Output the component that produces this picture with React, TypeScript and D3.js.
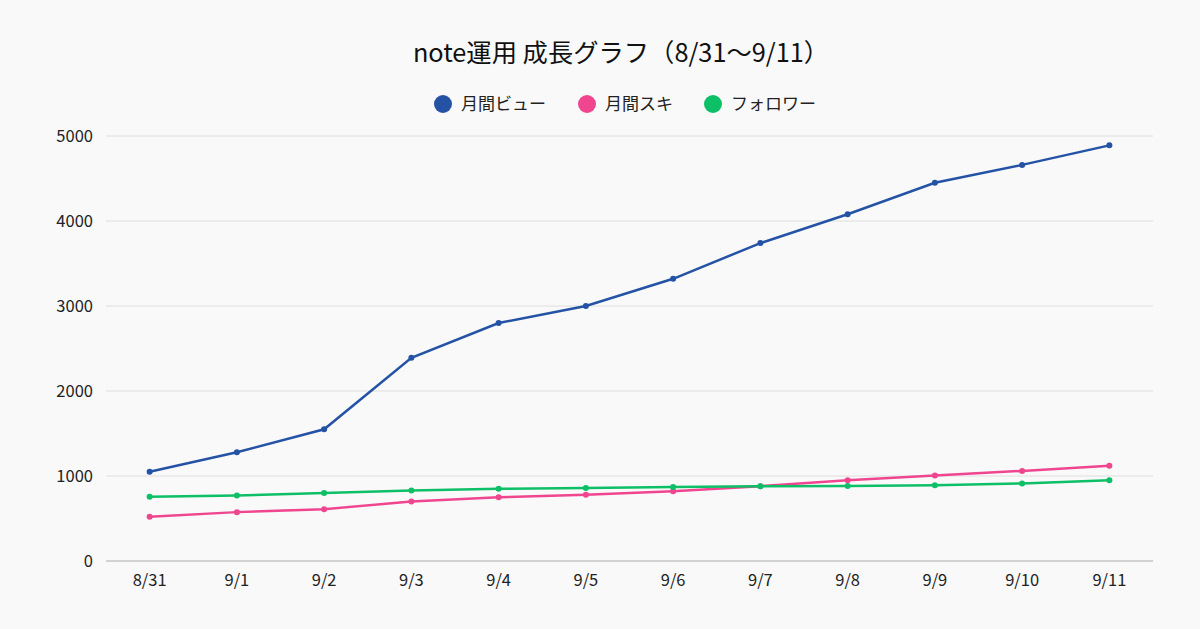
import * as d3 from 'd3'
import { useEffect, useRef } from 'react'

const dates = ['8/31', '9/1', '9/2', '9/3', '9/4', '9/5', '9/6', '9/7', '9/8', '9/9', '9/10', '9/11']
const monthlyViews = [1050, 1280, 1550, 2390, 2800, 3000, 3320, 3740, 4080, 4450, 4660, 4890]
const monthlyLikes = [520, 575, 610, 700, 750, 780, 820, 880, 950, 1005, 1060, 1120]
const followers = [755, 770, 800, 830, 850, 860, 870, 880, 883, 890, 912, 950]
const yTicks = [0, 1000, 2000, 3000, 4000, 5000]

const series = [
  { name: '月間ビュー', color: '#2453a6', values: monthlyViews },
  { name: '月間スキ', color: '#f0468f', values: monthlyLikes },
  { name: 'フォロワー', color: '#0dbf66', values: followers },
]

const FONT = '"Noto Sans CJK JP", "Noto Sans", sans-serif'

export default function App() {
  const svgRef = useRef<SVGSVGElement>(null)

  useEffect(() => {
    if (!svgRef.current) return
    document.body.style.margin = '0'
    d3.select(svgRef.current).selectAll('*').remove()

    const width = 1200
    const height = 629
    const margin = { top: 136, right: 47, bottom: 68, left: 106 }

    const svg = d3.select(svgRef.current).attr('width', width).attr('height', height)

    svg.append('rect').attr('width', width).attr('height', height).attr('fill', '#f9f9f9')

    const x = d3
      .scaleBand()
      .domain(dates)
      .range([margin.left, width - margin.right])

    const y = d3
      .scaleLinear()
      .domain([0, 5000])
      .range([height - margin.bottom, margin.top])

    const cx = (i: number) => x(dates[i])! + x.bandwidth() / 2

    // Gridlines
    svg
      .append('g')
      .selectAll('line')
      .data(yTicks.filter(t => t > 0))
      .enter()
      .append('line')
      .attr('x1', margin.left)
      .attr('x2', width - margin.right)
      .attr('y1', d => y(d))
      .attr('y2', d => y(d))
      .attr('stroke', '#dedede')
      .attr('stroke-width', 1)

    // Y tick labels
    svg
      .append('g')
      .selectAll('text')
      .data(yTicks)
      .enter()
      .append('text')
      .attr('x', 93)
      .attr('y', d => y(d))
      .attr('dy', '0.35em')
      .attr('text-anchor', 'end')
      .style('font-family', FONT)
      .style('font-size', '16.5px')
      .style('fill', '#222')
      .text(d => d)

    // X axis baseline
    svg
      .append('line')
      .attr('x1', margin.left)
      .attr('x2', width - margin.right)
      .attr('y1', y(0))
      .attr('y2', y(0))
      .attr('stroke', '#c4c4c4')
      .attr('stroke-width', 1.5)

    // X tick labels
    svg
      .append('g')
      .selectAll('text')
      .data(dates)
      .enter()
      .append('text')
      .attr('x', (_, i) => cx(i))
      .attr('y', y(0) + 25)
      .attr('text-anchor', 'middle')
      .style('font-family', FONT)
      .style('font-size', '16.5px')
      .style('fill', '#222')
      .text(d => d)

    // Lines
    const line = d3
      .line<number>()
      .x((_, i) => cx(i))
      .y(d => y(d))

    series.forEach(s => {
      svg
        .append('path')
        .datum(s.values)
        .attr('d', line)
        .attr('fill', 'none')
        .attr('stroke', s.color)
        .attr('stroke-width', 2.5)

      svg
        .append('g')
        .selectAll('circle')
        .data(s.values)
        .enter()
        .append('circle')
        .attr('cx', (_, i) => cx(i))
        .attr('cy', d => y(d))
        .attr('r', 3)
        .attr('fill', s.color)
    })

    // Title
    svg
      .append('text')
      .attr('x', 621)
      .attr('y', 62)
      .attr('text-anchor', 'middle')
      .style('font-family', FONT)
      .style('font-size', '25.3px')
      .style('fill', '#111')
      .text('note運用 成長グラフ（8/31〜9/11）')

    // Legend
    const legendX = [443, 587, 713]
    series.forEach((s, i) => {
      const g = svg.append('g').attr('transform', `translate(${legendX[i]},104)`)
      g.append('circle').attr('r', 9).attr('fill', s.color)
      g.append('text')
        .attr('x', 18)
        .attr('dy', '0.35em')
        .style('font-family', FONT)
        .style('font-size', '17px')
        .style('fill', '#222')
        .text(s.name)
    })
  }, [])

  return (
    <div>
      <svg ref={svgRef} style={{ display: 'block' }}></svg>
    </div>
  )
}
